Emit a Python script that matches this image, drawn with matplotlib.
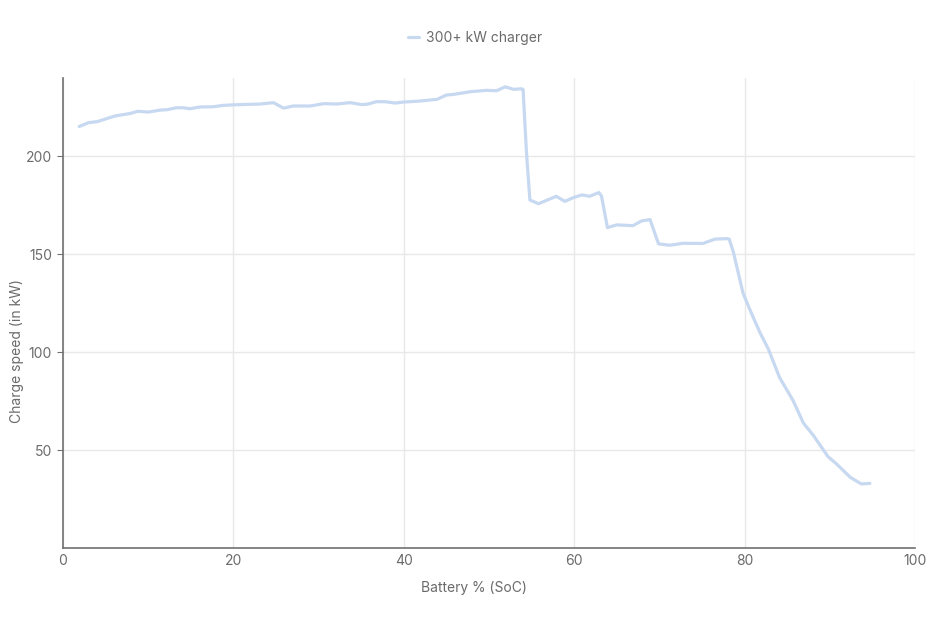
import matplotlib.pyplot as plt

# battery state of charge (%) and charge power (kW)
soc = [1.9, 3.0, 4.0, 6.1, 7.9, 8.8, 10.0, 11.4, 12.2, 13.3, 14.1, 14.9, 16.1, 17.6,
       18.8, 20.0, 23.1, 24.7, 25.9, 27.0, 29.0, 30.6, 32.1, 33.7, 35.1, 35.8, 36.8,
       37.8, 39.0, 39.9, 41.5, 43.9, 45.0, 45.8, 47.8, 49.7, 50.9, 51.9, 52.9, 53.8,
       54.0, 54.4, 54.8, 55.8, 56.8, 57.9, 58.9, 59.9, 60.9, 61.8, 62.9, 63.2, 63.9,
       65.0, 66.9, 67.9, 68.9, 69.9, 71.2, 72.8, 75.1, 76.5, 77.9, 78.2, 78.7, 79.8,
       80.6, 81.8, 82.8, 84.1, 85.7, 86.9, 88.1, 89.8, 90.8, 92.4, 93.7, 94.7]
power = [215.2, 217.2, 217.7, 220.6, 221.9, 223.0, 222.6, 223.6, 223.8, 224.8, 224.8,
         224.3, 225.2, 225.3, 226.0, 226.3, 226.7, 227.4, 224.6, 225.7, 225.7, 226.9,
         226.7, 227.4, 226.4, 226.7, 227.9, 227.9, 227.2, 227.7, 228.1, 229.1, 231.3,
         231.6, 233.0, 233.7, 233.5, 235.5, 234.2, 234.5, 234.2, 201.9, 177.7, 175.8,
         177.6, 179.6, 177.0, 178.9, 180.3, 179.6, 181.5, 179.8, 163.6, 165.0, 164.6,
         167.0, 167.7, 155.3, 154.6, 155.6, 155.5, 157.7, 158.0, 157.7, 150.8, 130.4,
         121.9, 110.0, 101.5, 87.1, 75.2, 63.8, 57.3, 46.6, 42.9, 36.1, 32.7, 33.0]

x_ticks = [0, 20, 40, 60, 80, 100]
y_ticks = [50, 100, 150, 200]

plt.rcParams["font.family"] = ["Inter", "DejaVu Sans"]

fig = plt.figure(figsize=(9.5, 6.22), dpi=100)
ax = fig.add_axes([63 / 950, 1 - 548 / 622, 852 / 950, 470 / 622])

ax.plot(soc, power, color="#c7d8f1", linewidth=2.3, solid_capstyle="round",
        solid_joinstyle="round", label="300+ kW charger")

ax.set_xlim(0, 100)
ax.set_ylim(0, 240)
ax.set_xticks(x_ticks)
ax.set_yticks(y_ticks)
ax.grid(True, color="#e8e8e8", linewidth=1)
ax.set_axisbelow(True)

for s in ["top", "right"]:
    ax.spines[s].set_visible(False)
for s in ["left", "bottom"]:
    ax.spines[s].set_color("#707070")
    ax.spines[s].set_linewidth(1.2)

ax.tick_params(colors="#707070", labelcolor="#6b6b6b", labelsize=10)
ax.tick_params(axis="y", length=4, pad=4)
ax.tick_params(axis="x", length=0, pad=4)

ax.set_xlabel("Battery % (SoC)", color="#6b6b6b", fontsize=10)
ax.set_ylabel("Charge speed (in kW)", color="#6b6b6b", fontsize=10)
ax.xaxis.set_label_coords(0.482, -0.071)
ax.yaxis.set_label_coords(-0.046, 0.42)

fig.legend(loc="upper center", bbox_to_anchor=(0.5, 0.97), frameon=False,
           fontsize=10, labelcolor="#6b6b6b", handlelength=0.8, handletextpad=0.5)

plt.savefig("out.png", dpi=100)
plt.close()
